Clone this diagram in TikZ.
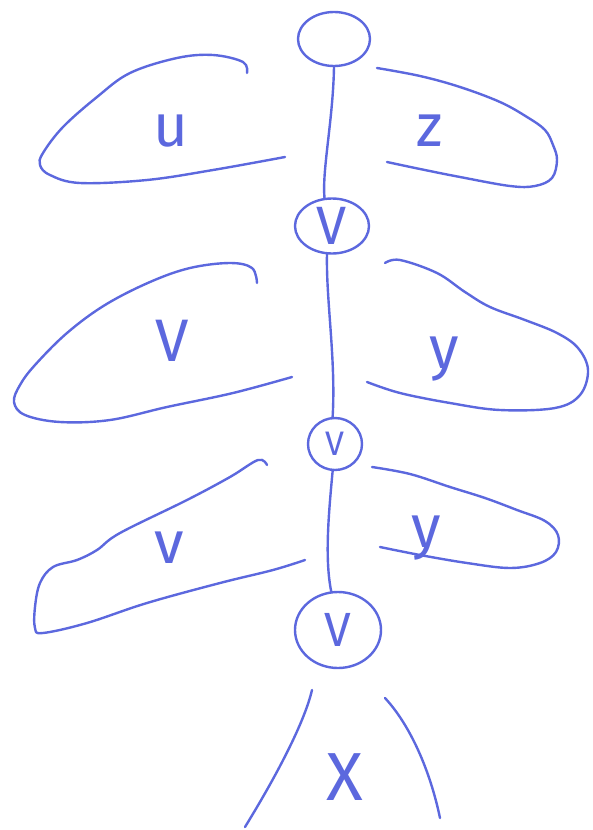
\documentclass[tikz,border=0pt]{standalone}
\usepackage{fontspec}
\setmainfont{Fira Sans}
\usetikzlibrary{shapes.geometric}
\definecolor{ink}{RGB}{92,104,222}
\tikzset{
  pen/.style={draw=ink, line width=2.4pt, line cap=round, line join=round},
  knot/.style={ellipse, pen, inner sep=0pt, text=ink},
  letter/.style={text=ink, inner sep=0pt, font=\fontsize{60}{60}\selectfont},
  blob/.style={pen, smooth, tension=0.6}
}

\begin{document}
\begin{tikzpicture}[x=1pt,y=-1pt]
  \useasboundingbox (0,0) rectangle (593,830);
  % spine of knots
  \node[knot, minimum width=72pt, minimum height=54pt] (root) at (334,39) {};
  \node[knot, minimum width=74pt, minimum height=55pt, font=\fontsize{54}{54}\selectfont] (v1) at (332,226) {V};
  \node[knot, minimum width=54pt, minimum height=52pt, font=\fontsize{34}{34}\selectfont] (v2) at (335,444) {V};
  \node[knot, minimum width=86pt, minimum height=76pt, font=\fontsize{48}{48}\selectfont] (v3) at (338,630) {V};
  \draw[pen] (root.south) .. controls (333,120) and (322,170) .. (v1.105);
  \draw[pen] (v1.260) .. controls (326,300) and (336,360) .. (v2.95);
  \draw[pen] (v2.265) .. controls (328,520) and (325,560) .. (v3.100);
  % side blobs
  \draw[blob] plot coordinates {(247,73) (243,62) (213,55) (177,58) (130,73) (97,97) (63,127) (43,153) (40,165) (50,175) (80,183) (147,180) (213,170) (285,157)};
  \draw[blob] plot coordinates {(377,68) (420,76) (460,87) (500,102) (527,117) (545,130) (553,145) (557,160) (552,178) (535,186) (510,186) (460,177) (420,169) (387,162)};
  \draw[blob] plot coordinates {(257,283) (252,268) (230,263) (190,268) (150,282) (105,305) (67,333) (35,365) (20,385) (14,402) (25,415) (60,422) (110,420) (167,407) (233,393) (292,377)};
  \draw[blob] plot coordinates {(385,263) (400,260) (437,273) (465,292) (490,307) (525,320) (557,333) (578,348) (588,370) (580,395) (555,408) (500,410) (450,403) (400,393) (367,382)};
  \draw[blob] plot coordinates {(267,465) (258,460) (230,477) (187,500) (120,533) (97,550) (77,560) (53,567) (40,583) (35,607) (35,628) (43,633) (87,623) (147,603) (220,583) (273,570) (305,560)};
  \draw[blob] plot coordinates {(372,467) (410,474) (450,487) (485,498) (517,510) (545,521) (558,535) (556,552) (540,563) (510,568) (467,563) (420,555) (380,547)};
  \node[letter] (lu) at (171,131) {u};
  \node[letter] (lz) at (430,131) {z};
  \node[letter] (lV) at (172,341) {V};
  \node[letter] (ly) at (444,359) {y};
  \node[letter] (lv) at (169,548) {v};
  \node[letter] (ly2) at (426,538) {y};
  % bottom subtree
  \draw[pen] (312,690) .. controls (305,720) and (280,770) .. (245,827);
  \draw[pen] (385,698) .. controls (410,725) and (430,770) .. (440,818);
  \node[letter, font=\fontsize{68}{68}\selectfont] (lx) at (345,777) {X};
\end{tikzpicture}
\end{document}
